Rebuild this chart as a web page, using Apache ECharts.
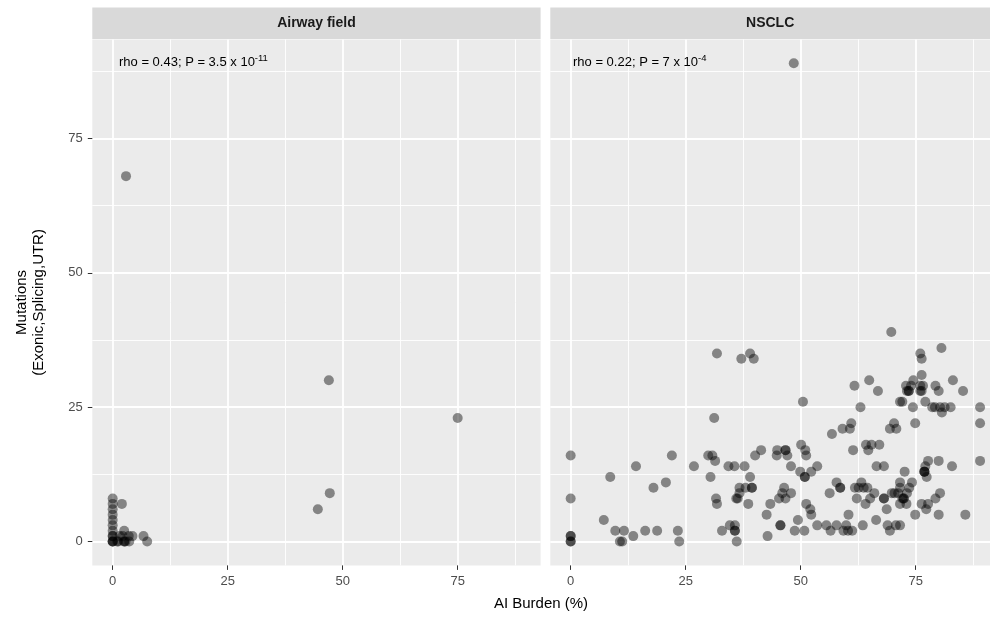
<!DOCTYPE html>
<html>
<head>
<meta charset="utf-8">
<script src="https://cdn.jsdelivr.net/npm/echarts@6/dist/echarts.min.js"></script>
<style>html,body{margin:0;padding:0;background:#fff}#c{width:993px;height:618px}</style>
</head>
<body>
<div id="c"></div>
<script>
// ---- data ----
const panels = ["Airway field", "NSCLC"];
const majorTicks = [0, 25, 50, 75];
const minorTicks = [12.5, 37.5, 62.5, 87.5];
const annotations = [
  {base: "rho = 0.43; P = 3.5 x 10", exp: "-11"},
  {base: "rho = 0.22; P = 7 x 10", exp: "-4"}
];
const airwayX = [0,0,0,0,0,0,0,0,0,0,0,0, 2.0,2.5,2.2,1.2,2.5,2.8,3.6,4.3,3.5,6.7,7.5,1.5,1.0,2.5, 2.9, 47.0, 75.0, 47.2, 44.6];
const airwayY = [0,0,0,1,1,2,3,4,5,6,7,8, 7,2,1,0,0,0,0,1,1,1,0,1,0,0, 68, 30, 23, 9, 6];
const nsclcX = [31.8,37.1,39.0,39.8,31.2,0,22.0,29.9,30.8,31.4,41.4,40.1,14.2,26.8,34.3,35.6,37.8,8.6,30.4,39.0,20.7,18.0,36.7,38.0,39.4,39.4,36.7,36.0,36.3,0,31.6,31.8,38.6,43.4,42.6,7.2,34.6,35.7,35.7,35.7,9.7,11.6,13.6,16.2,18.8,23.3,32.9,0,0,0,0,10.7,11.2,23.6,36.1,42.8,
  69.7,80.6,76.0,76.3,76.3,83.1,64.9,74.5,61.7,72.9,74.0,76.0,76.6,79.3,73.5,73.5,73.1,76.0,76.3,80.0,85.3,66.8,50.5,71.6,72.1,77.1,63.0,74.4,78.6,79.2,80.3,81.3,82.6,80.7,89.0,74.9,89.0,61.0,59.1,60.7,69.4,70.3,70.8,56.8,50.1,44.9,46.7,46.7,44.8,47.1,51.0,51.2,64.2,65.4,67.1,64.7,61.4,47.9,49.9,50.9,50.9,52.3,53.6,66.5,68.1,72.6,76.9,76.9,76.9,77.1,77.7,80.0,82.9,89.0,77.4,46.4,46.0,47.9,45.3,46.7,45.6,45.6,48.7,50.8,49.4,51.2,52.1,52.3,53.6,55.6,56.5,57.8,56.3,57.8,58.6,58.6,59.3,59.9,60.3,61.2,60.4,62.2,61.8,62.6,63.2,63.7,64.5,64.1,65.1,66.0,63.5,66.4,68.1,68.1,68.7,68.9,69.4,70.7,71.6,69.8,70.4,71.6,71.6,71.2,72.4,72.4,72.1,71.6,73.0,73.6,74.2,73.1,74.9,76.3,77.3,77.7,79.3,80.3,80.0,85.8,48.5];
const nsclcY = [35,34,35,34,23,16,16,16,16,15,17,16,14,14,14,14,14,12,12,12,11,10,10,10,10,10,9,8,8,8,8,7,7,7,5,4,3,3,2,2,2,2,1,2,2,2,2,1,1,0,0,0,0,0,0,1,
  39,36,35,34,31,30,30,30,29,29,29,29,29,29,28,28,28,28,28,28,28,28,26,26,26,26,25,25,25,25,25,25,25,24,25,22,22,22,21,21,21,22,21,20,18,17,17,17,16,16,17,16,18,18,18,17,17,14,13,12,12,13,14,14,14,13,13,13,13,14,15,15,14,15,12,10,9,9,8,8,3,3,2,2,4,7,6,5,3,3,2,3,9,11,10,10,2,3,2,2,5,8,10,10,11,10,10,7,8,9,3,4,8,8,6,3,2,3,3,9,9,11,10,9,8,8,8,7,7,10,11,9,5,7,6,7,8,9,5,5,89];

// ---- layout ----
const G = [
  {left: 92.3, top: 39.4, width: 448.3, height: 526, xmax: 93.03},
  {left: 550.3, top: 39.4, width: 439.7, height: 526, xmax: 91.16}
];
const XMIN = -4.43, YMIN = -4.45, YMAX = 93.45;
const tickColor = '#333333', labelColor = '#4D4D4D';
const fontFam = 'Liberation Sans, Arial, sans-serif';

function xAxes(gi) {
  return [
    {type:'value', gridIndex: gi, position:'bottom', min: XMIN, max: G[gi].xmax,
     axisLine:{show:false, onZero:false},
     axisTick:{show:true, inside:false, customValues: majorTicks, length:4.5, lineStyle:{color:tickColor, width:1}},
     axisLabel:{show:true, customValues: majorTicks, color: labelColor, fontSize: 13, fontFamily: fontFam, margin: 10},
     splitLine:{show:true, lineStyle:{color:'#FFFFFF', width:1.8}}},
    {type:'value', gridIndex: gi, position:'bottom', min: XMIN, max: G[gi].xmax,
     axisLine:{show:false, onZero:false},
     axisTick:{show:false, customValues: minorTicks},
     axisLabel:{show:false, customValues: minorTicks},
     splitLine:{show:true, lineStyle:{color:'#FFFFFF', width:0.9}}}
  ];
}
function yAxes(gi) {
  const showLab = gi === 0;
  return [
    {type:'value', gridIndex: gi, position:'left', min: YMIN, max: YMAX,
     axisLine:{show:false, onZero:false},
     axisTick:{show:showLab, inside:false, customValues: majorTicks, length:4.5, lineStyle:{color:tickColor, width:1}},
     axisLabel:{show:showLab, customValues: majorTicks, color: labelColor, fontSize: 13, fontFamily: fontFam, margin: 9.5},
     splitLine:{show:true, lineStyle:{color:'#FFFFFF', width:1.8}}},
    {type:'value', gridIndex: gi, position:'left', min: YMIN, max: YMAX,
     axisLine:{show:false, onZero:false},
     axisTick:{show:false, customValues: minorTicks},
     axisLabel:{show:false, customValues: minorTicks},
     splitLine:{show:true, lineStyle:{color:'#FFFFFF', width:0.9}}}
  ];
}

const pointColor = 'rgba(0,0,0,0.55)';
function pts(xs, ys) { return xs.map((x, i) => [x, ys[i]]); }

const graphics = [];
G.forEach((g, i) => {
  graphics.push({type:'rect', shape:{x:g.left, y:7.5, width:g.width, height:31.5}, style:{fill:'#D9D9D9'}, silent:true});
  graphics.push({type:'text', x:g.left + g.width/2, y:23.5, style:{text:panels[i], fill:'#1A1A1A', font:'bold 14px "Liberation Sans", Arial, sans-serif', textAlign:'center', textVerticalAlign:'middle'}, silent:true});
});

const chart = echarts.init(document.getElementById('c'), null, {renderer:'canvas'});
chart.setOption({
  animation: false,
  backgroundColor: '#FFFFFF',
  grid: G.map(g => ({left:g.left, top:g.top, width:g.width, height:g.height, show:true, backgroundColor:'#EBEBEB', borderWidth:0, containLabel:false})),
  xAxis: [...xAxes(0), ...xAxes(1)],
  yAxis: [...yAxes(0), ...yAxes(1)],
  series: [
    {type:'scatter', xAxisIndex:0, yAxisIndex:0, data: pts(airwayX, airwayY), symbolSize:10,
     itemStyle:{color:pointColor}, emphasis:{disabled:true}, silent:true},
    {type:'scatter', xAxisIndex:2, yAxisIndex:2, data: pts(nsclcX, nsclcY), symbolSize:10,
     itemStyle:{color:pointColor}, emphasis:{disabled:true}, silent:true}
  ],
  graphic: [
    ...graphics,
    ...annotations.map((a, i) => ({type:'text', left: (i === 0 ? 119 : 573), top: 53, z: 100,
      style:{text: '{b|' + a.base + '}{s|' + a.exp + '}', rich:{
        b:{fontSize:13, fontFamily: fontFam, fill:'#000', verticalAlign:'bottom', lineHeight:16},
        s:{fontSize:9.5, fontFamily: fontFam, fill:'#000', verticalAlign:'top', padding:[0,0,8,0], lineHeight:16}
      }}, silent:true})),
    {type:'text', x: 541, y: 604, style:{text:'AI Burden (%)', fill:'#000', font:'15px "Liberation Sans", Arial, sans-serif', textAlign:'center', textVerticalAlign:'middle'}, silent:true},
    {type:'text', x: 30, y: 302.4, rotation: Math.PI/2, style:{text:'Mutations\n(Exonic,Splicing,UTR)', fill:'#000', font:'15px "Liberation Sans", Arial, sans-serif', textAlign:'center', textVerticalAlign:'middle', lineHeight:17}, silent:true}
  ]
});
</script>
</body>
</html>
